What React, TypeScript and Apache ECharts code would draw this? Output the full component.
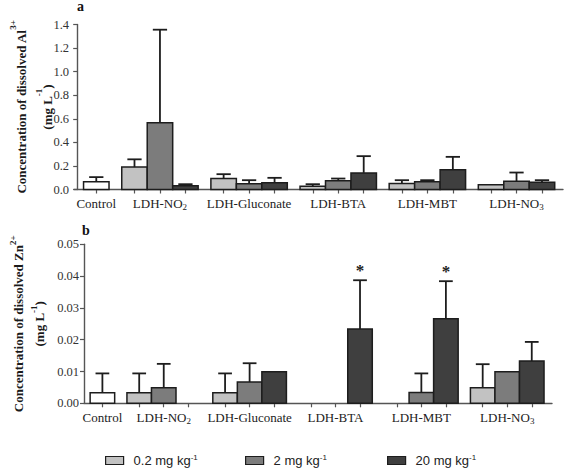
import React, { useEffect, useRef } from "react";
import * as echarts from "echarts";

// ---- data ----
const categories = ["Control", "LDH-NO2", "LDH-Gluconate", "LDH-BTA", "LDH-MBT", "LDH-NO3"];
const doseNames = ["0.2 mg kg-1", "2 mg kg-1", "20 mg kg-1"];

// Panel a: dissolved Al3+ (mg L-1); groups LDH-NO2 .. LDH-NO3
const alControl = 0.065;
const alControlErr = 0.04;
const al02 = [0.19, 0.093, 0.028, 0.05, 0.04];
const al02Err = [0.066, 0.037, 0.017, 0.029, 0];
const al2 = [0.566, 0.048, 0.074, 0.065, 0.071];
const al2Err = [0.79, 0.031, 0.019, 0.014, 0.073];
const al20 = [0.031, 0.057, 0.141, 0.167, 0.062];
const al20Err = [0.014, 0.042, 0.142, 0.11, 0.017];

// Panel b: dissolved Zn2+ (mg L-1)
const znControl = 0.0033;
const znControlErr = 0.0061;
const zn02 = [0.0033, 0.0033, null, null, 0.0049];
const zn02Err = [0.0061, 0.0061, 0, 0, 0.0074];
const zn2 = [0.0049, 0.0067, null, 0.0034, 0.0099];
const zn2Err = [0.0075, 0.0059, 0, 0.006, 0];
const zn20 = [null, 0.0099, 0.0234, 0.0266, 0.0133];
const zn20Err = [0, 0, 0.0153, 0.0118, 0.006];
const zn20Star = [false, false, true, true, false];

const alTicks = [0, 1.4, 0.2];
const znTicks = [0, 0.05, 0.01];

// ---- layout helpers ----
const slotCenter = (group: number, slot: number) =>
  group === 0 ? 1.5 : 3.5 + (group - 1) * 7 + 1 + 2 * slot;
const labelCenters = categories.map((_, g) => (g === 0 ? 1.5 : slotCenter(g, 1)));
const tickCenters = [1.5, ...[1, 2, 3, 4, 5].flatMap((g) => [0, 1, 2].map((s) => slotCenter(g, s)))];
const legendLefts = [100, 240, 382];

const fills = ["#c2c2c2", "#7c7c7c", "#3f3f3f"];
const controlFill = "#ffffff";
const ink = "#1d1d1d";
const serif = '"Liberation Serif", "Times New Roman", serif';
const sans = '"Liberation Sans", Arial, sans-serif';

function rows(values: (number | null)[], errs: number[], slot: number, stars?: boolean[]) {
  const out: number[][] = [];
  values.forEach((v, i) => {
    if (v == null) return;
    out.push([slotCenter(i + 1, slot), v, errs[i] || 0, stars && stars[i] ? 1 : 0]);
  });
  return out;
}

function makeRender(fill: string) {
  return (params: any, api: any) => {
    const x = api.value(0);
    const v = api.value(1);
    const e = api.value(2);
    const star = api.value(3);
    const p0 = api.coord([x - 1, 0]);
    const p1 = api.coord([x + 1, v]);
    const w = p1[0] - p0[0];
    const xc = (p0[0] + p1[0]) / 2;
    const children: any[] = [
      {
        type: "rect",
        shape: { x: p0[0], y: p1[1], width: w, height: p0[1] - p1[1] },
        style: { fill, stroke: ink, lineWidth: 1.5 },
      },
    ];
    let capY = p1[1];
    if (e > 0) {
      capY = api.coord([x, v + e])[1];
      const half = w * 0.28;
      children.push({
        type: "line",
        shape: { x1: xc, y1: p1[1], x2: xc, y2: capY },
        style: { stroke: ink, lineWidth: 1.8 },
      });
      children.push({
        type: "line",
        shape: { x1: xc - half, y1: capY, x2: xc + half, y2: capY },
        style: { stroke: ink, lineWidth: 1.8 },
      });
    }
    if (star === 1) {
      children.push({
        type: "text",
        x: xc,
        y: capY - 1,
        style: {
          text: "*",
          font: `bold 17px ${serif}`,
          fill: ink,
          align: "center",
          verticalAlign: "bottom",
        },
      });
    }
    return { type: "group", children };
  };
}

function series(name: string, data: number[][], fill: string, idx: number) {
  return {
    type: "custom",
    name,
    xAxisIndex: idx,
    yAxisIndex: idx,
    data,
    encode: { x: 0, y: 1 },
    renderItem: makeRender(fill),
    itemStyle: { color: fill, borderColor: ink, borderWidth: 1.2 },
  };
}

function xAxisOf(idx: number, min: number, max: number) {
  return {
    type: "value",
    gridIndex: idx,
    min,
    max,
    splitLine: { show: false },
    axisLine: { show: true, onZero: false, lineStyle: { color: "#555", width: 1.4 } },
    axisTick: { show: true, customValues: tickCenters, length: 4, lineStyle: { color: "#555", width: 1.2 } },
    axisLabel: {
      customValues: labelCenters,
      margin: 6,
      formatter: (val: number) => {
        const i = labelCenters.findIndex((c) => Math.abs(c - val) < 1e-6);
        if (i < 0) return "";
        const name = categories[i];
        const m = name.match(/^(.*NO)(\d)$/);
        if (m) return `{t|${m[1]}}{sub|${m[2]}}`;
        return `{t|${name}}`;
      },
      rich: {
        t: { fontFamily: serif, fontSize: 13, lineHeight: 16, color: "#222" },
        sub: { fontFamily: serif, fontSize: 9, lineHeight: 4, verticalAlign: "bottom", color: "#222" },
      },
    },
  };
}

function yAxisOf(idx: number, ticks: number[], digits: number, ion: string, charge: string, lh: number, gap: number) {
  return {
    type: "value",
    gridIndex: idx,
    min: ticks[0],
    max: ticks[1],
    interval: ticks[2],
    splitLine: { show: false },
    axisLine: { show: true, lineStyle: { color: "#555", width: 1.4 } },
    axisTick: { show: true, length: 4, lineStyle: { color: "#555", width: 1.2 } },
    axisLabel: {
      margin: 5,
      fontFamily: serif,
      fontSize: 12.5,
      color: "#333",
      formatter: (v: number) => v.toFixed(digits),
    },
    name: `{t|Concentration of dissolved ${ion}}{s|${charge}}\n{t|(mg L}{s|-1}{t|)}`,
    nameLocation: "middle",
    nameRotate: 90,
    nameGap: gap,
    nameMoveOverlap: false,
    nameTextStyle: {
      rich: {
        t: { fontFamily: serif, fontWeight: "bold", fontSize: 13, lineHeight: lh, color: "#1a1a1a" },
        s: { fontFamily: serif, fontWeight: "bold", fontSize: 9, lineHeight: lh - 10, verticalAlign: "top", color: "#1a1a1a" },
      },
    },
  };
}

function legendOf(i: number) {
  return {
    data: [{ name: doseNames[i], icon: "rect" }],
    left: legendLefts[i],
    top: 448,
    itemWidth: 18,
    itemHeight: 8,
    itemGap: 0,
    itemStyle: { borderColor: ink, borderWidth: 1.2 },
    selectedMode: false,
    formatter: (name: string) => `{t|${name.replace(/-1$/, "")}}{sup|-1}`,
    textStyle: {
      padding: [0, 0, 0, 5],
      rich: {
        t: { fontFamily: sans, fontSize: 13, lineHeight: 15, color: "#222" },
        sup: { fontFamily: sans, fontSize: 8, lineHeight: 7, verticalAlign: "top", color: "#222" },
      },
    },
  };
}

export default function App() {
  const ref = useRef<HTMLDivElement>(null);
  useEffect(() => {
    document.body.style.margin = "0";
    if (!ref.current) return;
    const chart = echarts.init(ref.current, undefined, { renderer: "svg" });
    const option: any = {
      animation: false,
      backgroundColor: "#ffffff",
      grid: [
        { left: 71, right: 2, top: 24.5, height: 165 },
        { left: 77, right: 13, top: 244.3, height: 159 },
      ],
      xAxis: [xAxisOf(0, -0.25, 38.15), xAxisOf(1, 0, 38.15)],
      yAxis: [
        yAxisOf(0, alTicks, 1, "Al", "3+", 26, 14),
        yAxisOf(1, znTicks, 2, "Zn", "2+", 21, 34),
      ],
      legend: [legendOf(0), legendOf(1), legendOf(2)],
      graphic: [
        { type: "text", x: 77, y: 13, style: { text: "a", font: `bold 14px ${serif}`, fill: "#111", verticalAlign: "bottom" } },
        { type: "text", x: 82, y: 237, style: { text: "b", font: `bold 14px ${serif}`, fill: "#111", verticalAlign: "bottom" } },
      ],
      series: [
        series("Control", [[slotCenter(0, 0), alControl, alControlErr, 0]], controlFill, 0),
        series(doseNames[0], rows(al02, al02Err, 0), fills[0], 0),
        series(doseNames[1], rows(al2, al2Err, 1), fills[1], 0),
        series(doseNames[2], rows(al20, al20Err, 2), fills[2], 0),
        series("Control", [[slotCenter(0, 0), znControl, znControlErr, 0]], controlFill, 1),
        series(doseNames[0], rows(zn02, zn02Err, 0), fills[0], 1),
        series(doseNames[1], rows(zn2, zn2Err, 1), fills[1], 1),
        series(doseNames[2], rows(zn20, zn20Err, 2, zn20Star), fills[2], 1),
      ],
    };
    chart.setOption(option);
    return () => chart.dispose();
  }, []);
  return <div ref={ref} style={{ width: 565, height: 468 }} />;
}
